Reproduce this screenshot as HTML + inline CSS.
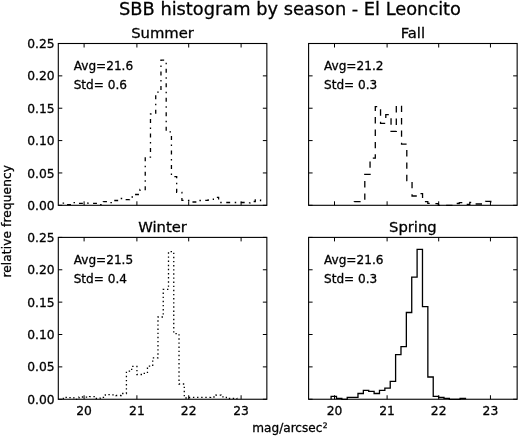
<!DOCTYPE html>
<html><head><meta charset="utf-8"><title>SBB histogram by season - El Leoncito</title>
<style>
html,body{margin:0;padding:0;background:#fff;}
svg{display:block;}
text{font-family:"DejaVu Sans","Liberation Sans",sans-serif;fill:#000;stroke:#000;stroke-width:0.3px;}
.t12{font-size:12.1px;}
.tl{font-size:12.3px;}
.ax{fill:none;stroke:#000;stroke-width:1.1;}
.tk{stroke:#000;stroke-width:1;fill:none;}
.h{fill:none;stroke:#000;stroke-width:1.3;stroke-linejoin:miter;}
</style></head><body>
<svg width="519" height="437" viewBox="0 0 519 437">
<rect width="519" height="437" fill="#fff"/>
<defs><filter id="b" x="-5%" y="-5%" width="110%" height="110%"><feGaussianBlur stdDeviation="0.45"/></filter></defs>
<g filter="url(#b)">

<path class="h" stroke-dasharray="3.9 4.55 1.5 4.55" stroke-dashoffset="-9.46" d="M61.40,205.30V203.10H66.64V204.70H71.88V202.70H77.12V203.30H82.36V203.30H87.60V203.10H92.84V203.30H98.08V204.70H103.32V201.60H108.56V202.70H113.80V200.50H119.04V198.50H124.28V199.60H129.52V197.00H134.76V194.50H140.00V189.50H145.24V157.10H150.48V114.00H155.72V92.20H160.96V60.20H166.20V131.90H171.44V176.60H176.68V192.30H181.92V200.30H187.16V200.50H192.40V202.00H197.64V200.50H202.88V200.30H208.12V200.00H213.36V197.40H218.60V202.50H223.84V202.50H229.08V202.50H234.32V202.50H239.56V202.50H244.80V202.80H250.04V201.50H255.28V199.80H260.52V205.30"/>
<path class="h" stroke-dasharray="6.4 6" stroke-dashoffset="-3.60" d="M354.30,205.30V201.60H359.55V201.60H364.80V174.30H370.05V158.20H375.30V106.60H380.55V123.40H385.80V114.60H391.05V131.40H396.30V105.50H401.55V144.20H406.80V180.70H412.05V196.00H417.30V193.70H422.55V201.70H427.80V203.30H433.05V203.60H438.30V205.30H443.55V205.30H448.80V205.30H454.05V203.50H459.30V202.70H464.55V204.30H469.80V202.40H475.05V204.00H480.30V204.00H485.55V201.40H490.80V205.30"/>
<path class="h" stroke-dasharray="1.4 2.73" d="M63.30,399.25V397.30H68.56V397.60H73.82V399.30H79.08V397.00H84.34V397.20H89.60V396.60H94.86V398.50H100.12V397.30H105.38V394.70H110.64V394.90H115.90V395.50H121.16V393.50H126.42V371.20H131.68V366.40H136.94V374.50H142.20V373.40H147.46V366.20H152.72V357.80H157.98V317.00H163.24V289.40H168.50V251.70H173.76V333.60H179.02V384.00H184.28V398.00H189.54V397.30H194.80V397.30H200.06V397.30H205.32V397.30H210.58V397.00H215.84V395.20H221.10V396.80H226.36V398.50H231.62V398.30H236.88V399.25"/>
<path class="h" d="M331.10,399.25V396.30H336.48V398.40H341.85V399.30H347.23V397.30H352.60V397.30H357.98V393.50H363.35V390.40H368.73V391.40H374.10V393.50H379.48V390.30H384.85V388.20H390.23V381.40H395.60V354.60H400.98V346.70H406.35V312.50H411.73V277.10H417.10V249.30H422.48V306.70H427.85V377.00H433.23V396.30H438.60V397.50H443.98V398.40H449.35V399.30H454.73V399.30H460.10V398.50H465.48V399.25"/>
<rect class="ax" x="58.3" y="43.5" width="208.55" height="161.80"/><text class="tl" x="54.70" y="209.90" text-anchor="end">0.00</text><text class="tl" x="54.70" y="177.54" text-anchor="end">0.05</text><text class="tl" x="54.70" y="145.18" text-anchor="end">0.10</text><text class="tl" x="54.70" y="112.82" text-anchor="end">0.15</text><text class="tl" x="54.70" y="80.46" text-anchor="end">0.20</text><text class="tl" x="54.70" y="48.10" text-anchor="end">0.25</text><path class="tk" d="M84.10,205.3v-4M84.10,43.5v4M136.90,205.3v-4M136.90,43.5v4M188.70,205.3v-4M188.70,43.5v4M241.10,205.3v-4M241.10,43.5v4M58.3,205.30h4M266.85,205.30h-4M58.3,172.94h4M266.85,172.94h-4M58.3,140.58h4M266.85,140.58h-4M58.3,108.22h4M266.85,108.22h-4M58.3,75.86h4M266.85,75.86h-4M58.3,43.50h4M266.85,43.50h-4"/><text x="162.58" y="38.40" text-anchor="middle" style="font-size:14.8px">Summer</text><text class="t12" x="73.68" y="69.59">Avg=21.6</text><text class="t12" x="73.68" y="88.80" xml:space="preserve">Std= 0.6</text>
<rect class="ax" x="308.6" y="43.5" width="208.55" height="161.80"/><path class="tk" d="M334.50,205.3v-4M334.50,43.5v4M387.10,205.3v-4M387.10,43.5v4M438.70,205.3v-4M438.70,43.5v4M490.45,205.3v-4M490.45,43.5v4M308.6,205.30h4M517.15,205.30h-4M308.6,172.94h4M517.15,172.94h-4M308.6,140.58h4M517.15,140.58h-4M308.6,108.22h4M517.15,108.22h-4M308.6,75.86h4M517.15,75.86h-4M308.6,43.50h4M517.15,43.50h-4"/><text x="412.88" y="38.40" text-anchor="middle" style="font-size:14.8px">Fall</text><text class="t12" x="323.98" y="69.59">Avg=21.2</text><text class="t12" x="323.98" y="88.80" xml:space="preserve">Std= 0.3</text>
<rect class="ax" x="58.3" y="237.4" width="208.55" height="161.85"/><text class="tl" x="84.10" y="414.65" text-anchor="middle">20</text><text class="tl" x="136.90" y="414.65" text-anchor="middle">21</text><text class="tl" x="188.70" y="414.65" text-anchor="middle">22</text><text class="tl" x="241.10" y="414.65" text-anchor="middle">23</text><text class="tl" x="54.70" y="403.85" text-anchor="end">0.00</text><text class="tl" x="54.70" y="371.48" text-anchor="end">0.05</text><text class="tl" x="54.70" y="339.11" text-anchor="end">0.10</text><text class="tl" x="54.70" y="306.74" text-anchor="end">0.15</text><text class="tl" x="54.70" y="274.37" text-anchor="end">0.20</text><text class="tl" x="54.70" y="242.00" text-anchor="end">0.25</text><path class="tk" d="M84.10,399.25v-4M84.10,237.4v4M136.90,399.25v-4M136.90,237.4v4M188.70,399.25v-4M188.70,237.4v4M241.10,399.25v-4M241.10,237.4v4M58.3,399.25h4M266.85,399.25h-4M58.3,366.88h4M266.85,366.88h-4M58.3,334.51h4M266.85,334.51h-4M58.3,302.14h4M266.85,302.14h-4M58.3,269.77h4M266.85,269.77h-4M58.3,237.40h4M266.85,237.40h-4"/><text x="162.58" y="232.30" text-anchor="middle" style="font-size:14.8px">Winter</text><text class="t12" x="73.68" y="263.50">Avg=21.5</text><text class="t12" x="73.68" y="282.72" xml:space="preserve">Std= 0.4</text>
<rect class="ax" x="308.6" y="237.4" width="208.55" height="161.85"/><text class="tl" x="334.50" y="414.65" text-anchor="middle">20</text><text class="tl" x="387.10" y="414.65" text-anchor="middle">21</text><text class="tl" x="438.70" y="414.65" text-anchor="middle">22</text><text class="tl" x="490.45" y="414.65" text-anchor="middle">23</text><path class="tk" d="M334.50,399.25v-4M334.50,237.4v4M387.10,399.25v-4M387.10,237.4v4M438.70,399.25v-4M438.70,237.4v4M490.45,399.25v-4M490.45,237.4v4M308.6,399.25h4M517.15,399.25h-4M308.6,366.88h4M517.15,366.88h-4M308.6,334.51h4M517.15,334.51h-4M308.6,302.14h4M517.15,302.14h-4M308.6,269.77h4M517.15,269.77h-4M308.6,237.40h4M517.15,237.40h-4"/><text x="412.88" y="232.30" text-anchor="middle" style="font-size:14.8px">Spring</text><text class="t12" x="323.98" y="263.50">Avg=21.6</text><text class="t12" x="323.98" y="282.72" xml:space="preserve">Std= 0.3</text>
<text x="290" y="14.8" text-anchor="middle" style="font-size:17.8px">SBB histogram by season - El Leoncito</text>
<text class="t12" transform="translate(11.2,221.3) rotate(-90)" text-anchor="middle" style="letter-spacing:0.14px">relative frequency</text>
<text class="t12" x="252.3" y="432.3">mag/arcsec<tspan dy="-4.3" dx="0.3" style="font-size:7.5px">2</tspan></text>
</g></svg></body></html>
